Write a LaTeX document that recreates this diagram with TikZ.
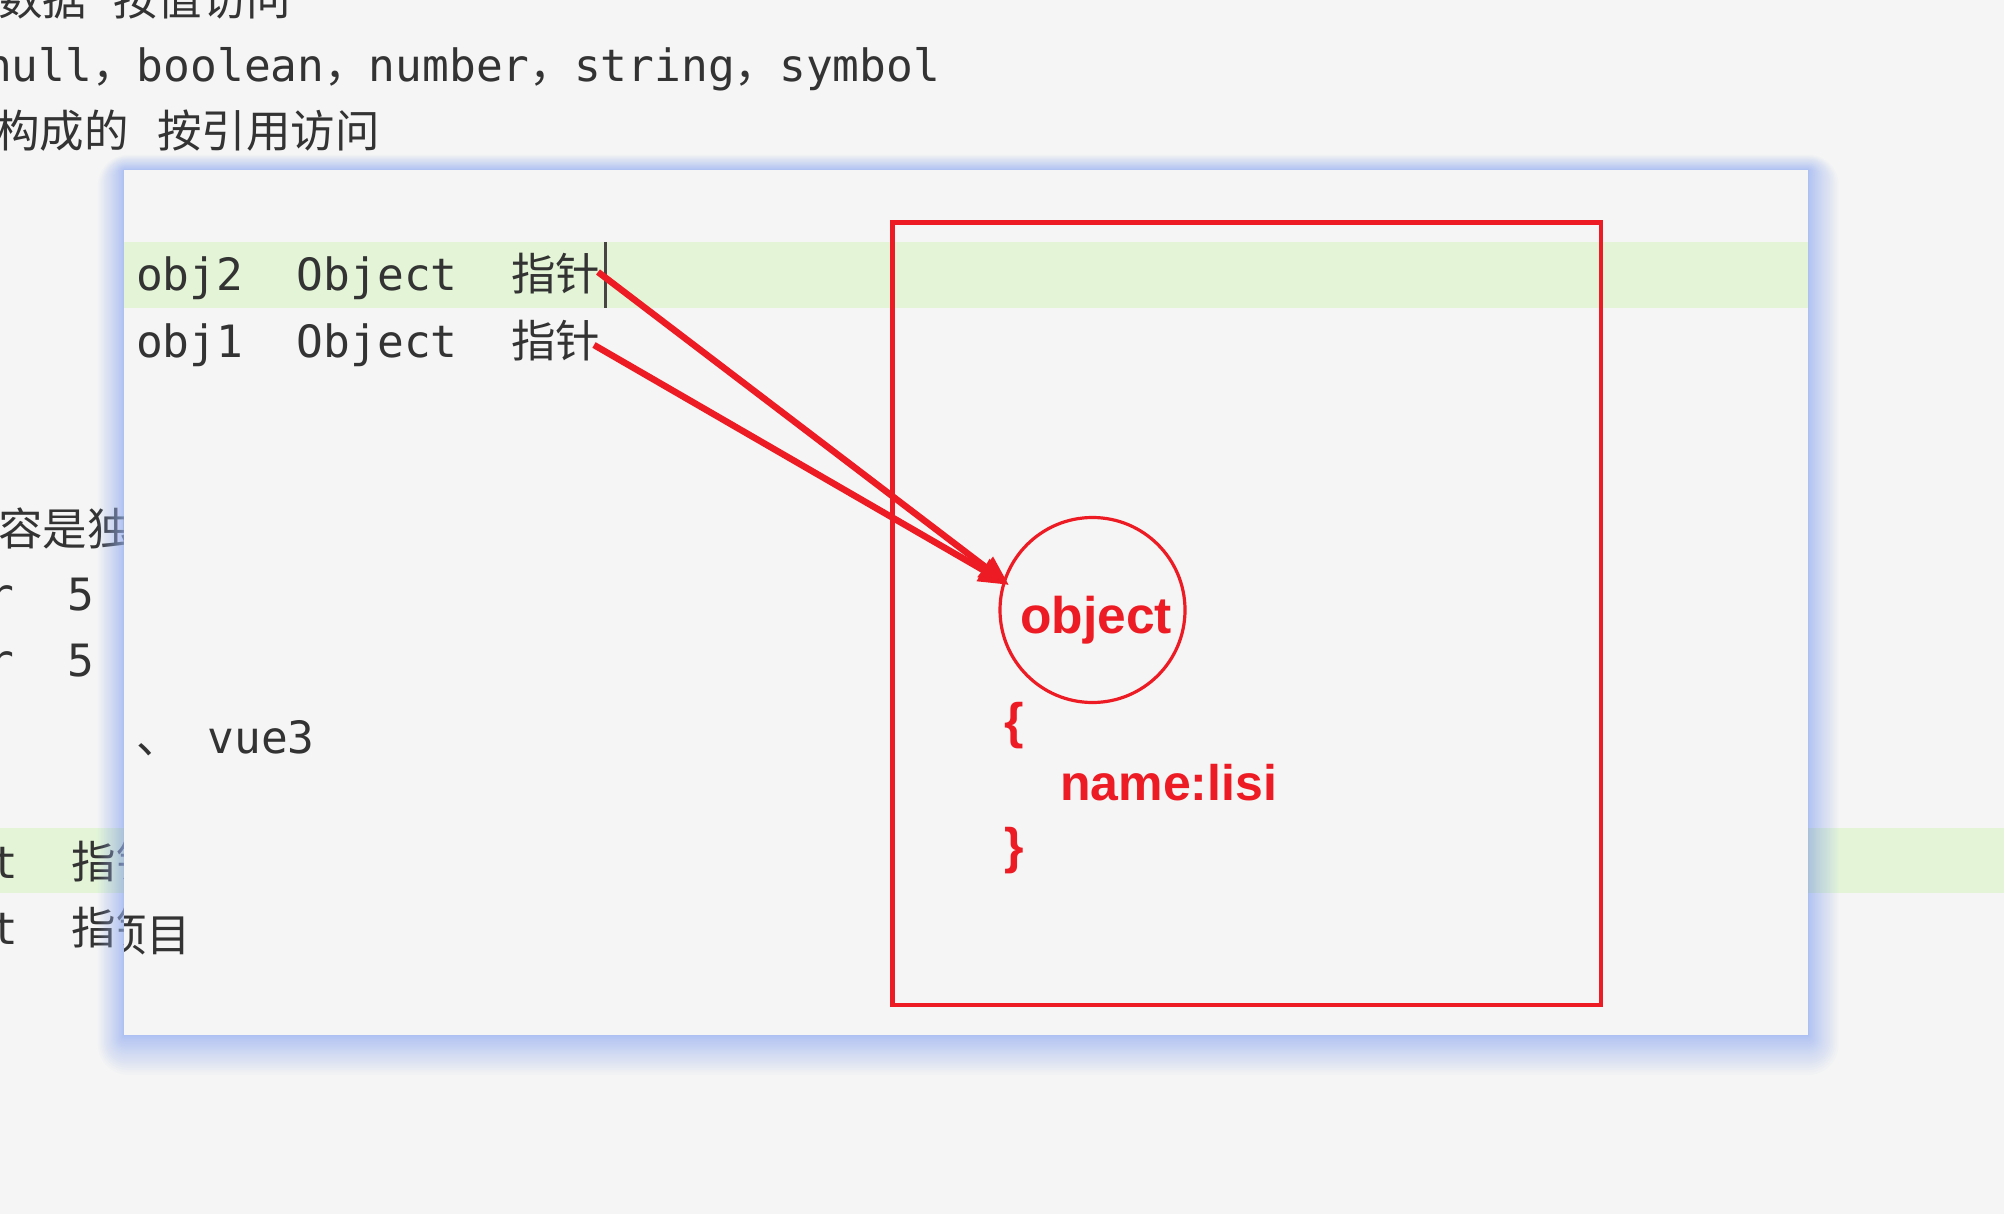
\documentclass[tikz,border=0pt]{standalone}
\usepackage{fontspec}
\usetikzlibrary{arrows.meta}
\newfontfamily\codefont{DejaVu Sans Mono}
\newfontfamily\cjk{Noto Sans CJK SC}
\newfontfamily\rfont{Liberation Sans}
\definecolor{bg}{HTML}{F5F5F5}
\definecolor{hl}{HTML}{E3F5D6}
\definecolor{txt}{HTML}{333333}
\definecolor{redmk}{HTML}{ED1C24}
\definecolor{glow}{HTML}{9DB6F2}
\definecolor{caret}{HTML}{4A4545}
\begin{document}
\begin{tikzpicture}[x=1pt,y=-1pt,
  code/.style={font=\codefont\fontsize{44.5}{50}\selectfont, text=txt, inner sep=0pt, anchor=base west},
  redtxt/.style={font=\rfont\bfseries\fontsize{50}{56}\selectfont, text=redmk, inner sep=0pt, anchor=base west},
  ptr/.style={draw=redmk, line width=6.5pt, -{Triangle[length=30pt,width=24pt]}},
]
\fill[bg] (0,0) rectangle (2004,1214);
\useasboundingbox (0,0) rectangle (2004,1214);
% background document (outside the panel)
\fill[hl] (0,828) rectangle (2004,893);
\node[code] (t1a) at (-2,16) {\cjk 数据};
\node[code] (t1b) at (113,16) {\cjk 按值访问};
\node[code] (t2) at (-15,82) {null{\cjk ，}boolean{\cjk ，}number{\cjk ，}string{\cjk ，}symbol};
\node[code] (t3a) at (-5,148) {\cjk 构成的};
\node[code] (t3b) at (157,148) {\cjk 按引用访问};
\node[code] (t4) at (-2,545) {\cjk 容是独};
\node[code] (t5) at (-13,610) {r\ \ 5};
\node[code] (t6) at (-13,676) {r\ \ 5};
\node[code] (t7) at (-9,878) {t\ \ {\cjk 指针}};
\node[code] (t8) at (-9,944) {t\ \ {\cjk 指针}};
% panel glow
\foreach \i [evaluate=\i as \d using 0.03*\i*\i] in {1,...,32} {
  \fill[glow, opacity=0.045, rounded corners=\d pt] (124-0.85*\d,170-0.5*\d) rectangle (1808+\d,1035+1.3*\d);
}
% panel
\fill[bg] (124,170) rectangle (1808,1035);
\fill[hl] (124,242) rectangle (1808,308);
\node[code] (l2) at (136,291) {obj2\ \ Object\ \ {\cjk 指针}};
\node[code] (l1) at (136,357) {obj1\ \ Object\ \ {\cjk 指针}};
\node[code] (vue) at (136,753) {{\cjk 、}\ vue3};
\begin{scope}
  \clip (124,170) rectangle (1808,1035);
  \node[code] (xm) at (102,951) {\cjk 项目};
\end{scope}
\coordinate (c1) at (605,242);
\coordinate (c2) at (605,308);
\draw[caret, line width=3pt] (c1) -- (c2);
% red annotations
\draw[redmk, line width=4.5pt] (892.5,222.5) rectangle (1601,1005);
\node[circle, draw=redmk, line width=3.2pt, minimum size=185pt, inner sep=0pt] (circ) at (1092.5,610) {};
\node[redtxt, font=\rfont\bfseries\fontsize{51.5}{56}\selectfont] (objt) at (1020,633) {object};
\node[redtxt] (lb) at (1004,738) {\{};
\node[redtxt, font=\rfont\bfseries\fontsize{50}{56}\selectfont] (nm) at (1060,800) {name:lisi};
\node[redtxt] (rb) at (1004,863) {\}};
\coordinate (s2) at (598,272);
\coordinate (s1) at (594,345);
\coordinate (tip) at (1009,585);
\draw[ptr] (s2) -- (tip);
\draw[ptr] (s1) -- (tip);
\end{tikzpicture}
\end{document}
